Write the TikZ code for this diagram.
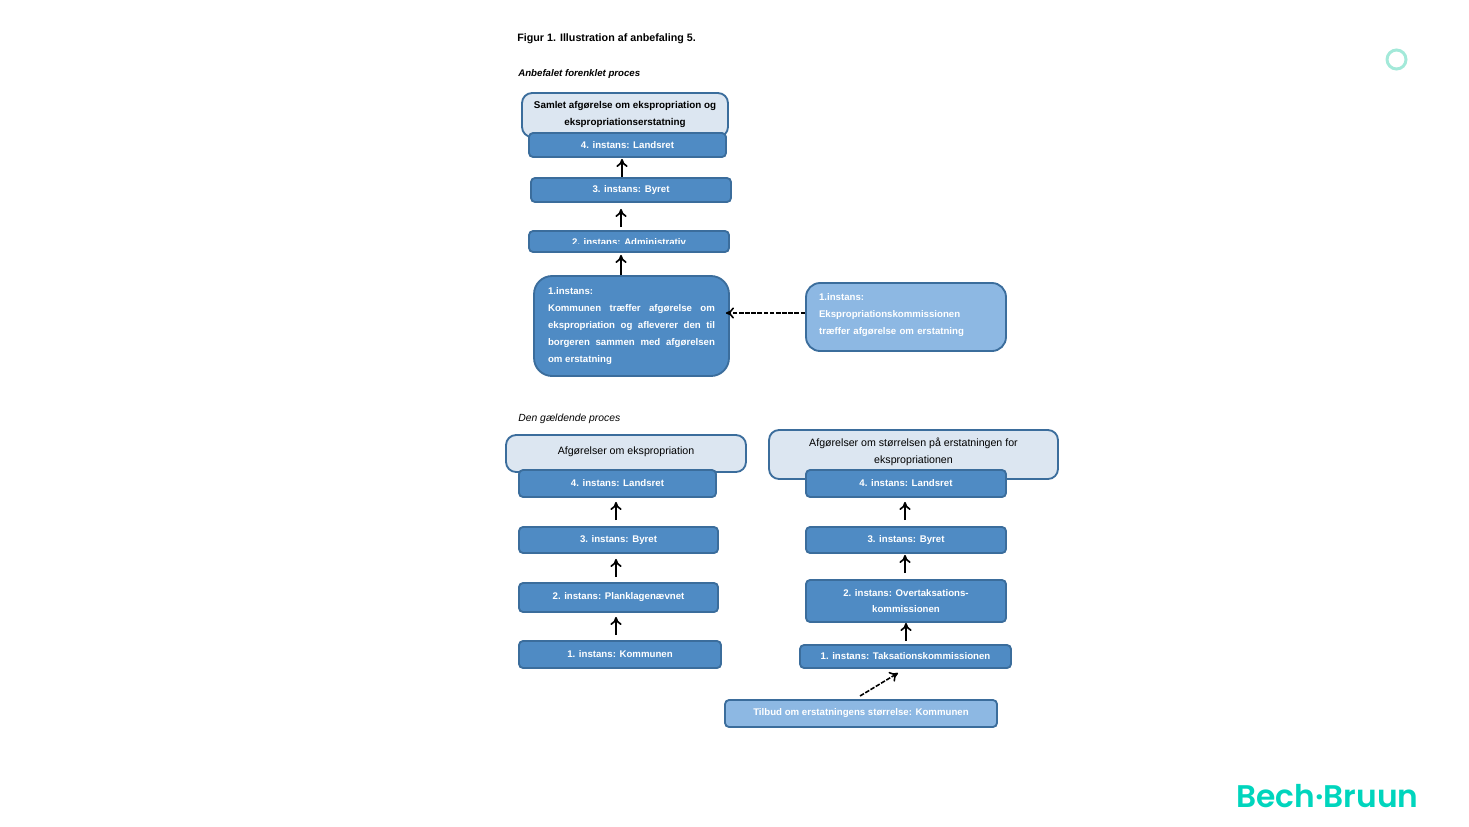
\documentclass[tikz,border=0pt]{standalone}
\usepackage{fontspec}
\setmainfont{Liberation Sans}
\newfontfamily\logofont{Poppins SemiBold}
\usepackage{tikz}
\usetikzlibrary{arrows.meta}
\definecolor{boxblue}{HTML}{4F8BC4}
\definecolor{boxline}{HTML}{3B6D9C}
\definecolor{boxlight}{HTML}{8DB8E3}
\definecolor{headfill}{HTML}{DCE6F1}
\definecolor{logoteal}{HTML}{00D5BD}
\definecolor{ringteal}{HTML}{A3E9D9}
\begin{document}
\begin{tikzpicture}[x=0.02cm,y=-0.02cm,>={To[length=4.6pt,width=6.4pt]}]
    \tikzstyle{inst}=[rectangle,rounded corners=0.08cm,draw=boxline,line width=1.05pt,fill=boxblue,inner sep=0pt,text=white,align=center,font=\bfseries\fontsize{5.5}{9.64}\selectfont]
    \tikzstyle{head}=[rectangle,rounded corners=0.2cm,draw=boxline,line width=1.05pt,fill=headfill,inner sep=0pt,text=black,align=center,font=\fontsize{6.05}{9.64}\selectfont]
    \tikzstyle{caption}=[anchor=west,inner sep=0pt,text=black]
    \tikzstyle{uparrow}=[->,line width=0.95pt,black]
    \tikzstyle{dasharrow}=[->,line width=0.9pt,black,dashed,dash pattern=on 2.6pt off 0.9pt]
    \useasboundingbox (0,0) rectangle (1469,826);

    \node[caption,font=\bfseries\fontsize{6.1}{7}\selectfont] (title) at (517,38.5) {Figur 1. Illustration af anbefaling 5.};
    \node[caption,font=\itshape\bfseries\fontsize{5.5}{7}\selectfont] (capA) at (518,73.5) {Anbefalet forenklet proces};
    \node[caption,font=\itshape\fontsize{5.9}{7}\selectfont] (capB) at (518,418.5) {Den gældende proces};

    % header boxes go first, the 4. instans boxes lie on them
    \node[head,font=\bfseries\fontsize{5.6}{9.64}\selectfont,minimum width=4.12cm,minimum height=0.88cm,text depth=1.3pt] (A-head) at (625,115) {Samlet afgørelse om ekspropriation og\\ekspropriationserstatning};
    \node[head,minimum width=4.8cm,minimum height=0.74cm,text depth=3pt] (B-head) at (626,453.5) {Afgørelser om ekspropriation};
    \node[head,minimum width=5.78cm,minimum height=0.98cm,text depth=4.3pt] (C-head) at (913.5,454.5) {Afgørelser om størrelsen på erstatningen for\\ekspropriationen};

    \foreach \name/\x/\y/\w/\h/\txt in {A-4/627.5/145/197/24/4. instans: Landsret, A-3/631/190/200/24/3. instans: Byret,
            B-4/617.5/483.5/197/27/4. instans: Landsret, B-3/618.5/540/199/26/3. instans: Byret,
            B-2/618.5/597.5/199/29/2. instans: Planklagenævnet, B-1/620/654.5/202/27/1. instans: Kommunen,
            C-4/906/483.5/200/27/4. instans: Landsret, C-3/906/540/200/26/3. instans: Byret,
            C-2/906/601/200/42/{2. instans: Overtaksations-\\kommissionen}, C-1/905.5/656.5/211/23/1. instans: Taksationskommissionen}
        \node[inst,minimum width=\w*0.02cm,minimum height=\h*0.02cm] (\name) at (\x,\y) {\txt};

    % this label is cut off in the box
    \node[inst,minimum width=4cm,minimum height=0.42cm] (A-2) at (629,241.5) {};
    \begin{scope}
        \clip (529,231) rectangle (729,243.6);
        \node[inst,draw=none,fill=none] (A-2-text) at (629,242) {2. instans: Administrativ};
    \end{scope}

    \node[inst,rounded corners=0.36cm,minimum width=3.9cm,minimum height=2cm,align=left] (A-1) at (631.5,326) {1.instans:\\
        \makebox[3.34cm][s]{Kommunen træffer afgørelse om}\\
        \makebox[3.34cm][s]{ekspropriation og afleverer den til}\\
        \makebox[3.34cm][s]{borgeren sammen med afgørelsen}\\
        om erstatning};
    \node[inst,rounded corners=0.28cm,fill=boxlight,minimum width=4cm,minimum height=1.36cm,align=left,text width=3.48cm] (A-side) at (906,317) {1.instans:\\Ekspropriationskommissionen\\træffer afgørelse om erstatning\par\vspace{2.26pt}};
    \node[inst,fill=boxlight,minimum width=5.44cm,minimum height=0.54cm] (C-side) at (861,713.5) {Tilbud om erstatningens størrelse: Kommunen};

    \foreach \from/\to/\x/\gapa/\gapb in {A-3/A-4/622/0/0.02, A-2/A-3/621/0.06/0.12, A-1/A-2/621/0/0.04,
            B-3/B-4/616/0.12/0.08, B-2/B-3/616/0.1/0.1, B-1/B-2/616/0.1/0.08,
            C-3/C-4/905/0.12/0.08, C-2/C-3/905/0.12/0.02, C-1/C-2/906/0.06/0}
        \draw[uparrow,shorten <=\gapa cm,shorten >=\gapb cm] (\x,0 |- \from.north) -- (\x,0 |- \to.south);

    \coordinate (side-start) at (860,696);
    \coordinate (side-end) at (898,673);
    \draw[dasharrow] (side-start) -- (side-end);
    \draw[dasharrow,shorten >=-0.08cm] (A-side.west |- 0,313) -- (A-1.east |- 0,313);

    \draw[ringteal,line width=1.7pt] (1396.5,59.5) circle (9.5);
    \node[anchor=west,inner sep=0pt,text=logoteal,font=\logofont\fontsize{17.8}{24}\selectfont] (logo) at (1236,796) {Bech·Bruun};
\end{tikzpicture}
\end{document}
